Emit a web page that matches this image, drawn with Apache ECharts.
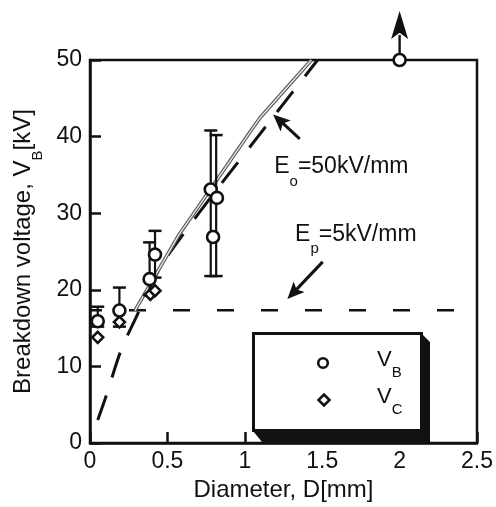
<!DOCTYPE html>
<html><head><meta charset="utf-8">
<script src="https://cdn.jsdelivr.net/npm/echarts@6/dist/echarts.min.js"></script>
<style>html,body{margin:0;padding:0;background:#fff}#c{width:496px;height:507px}</style>
</head><body><div id="c"></div>
<script>
// ---- data ----
const xTicks = [0, 0.5, 1, 1.5, 2, 2.5];
const yTicks = [0, 10, 20, 30, 40, 50];
// V_B (circles)
const vbD = [0.05, 0.19, 0.385, 0.42, 0.78, 0.82, 0.795, 2.0];
const vbV = [15.9, 17.3, 21.4, 24.6, 33.1, 32.0, 26.9, 50];
// V_C (diamonds)
const vcD = [0.05, 0.19, 0.39, 0.42];
const vcV = [13.8, 15.8, 19.4, 19.9];
// error bars
const errD = [0.05, 0.19, 0.385, 0.42, 0.78, 0.815];
const errLow = [15.2, 15.2, 19.3, 21.6, 21.8, 21.8];
const errHigh = [17.8, 20.3, 26.2, 27.7, 40.8, 40.2];
// E_o = 50 kV/mm dashed curve
const eoD = [0.05, 0.11, 0.2, 0.3, 0.45, 0.6, 0.8, 1.0, 1.2, 1.47];
const eoV = [3.0, 6.5, 12.1, 16.5, 22.8, 27.2, 32.6, 37.8, 43.0, 50];
// grey fitted line
const fitD = [0.29, 0.575, 1.03, 1.1, 1.43];
const fitV = [17.3, 27.2, 40.5, 42.5, 50];
// E_p = 5 kV/mm horizontal dashed line
const epD = [0, 2.5];
const epV = [17.35, 17.35];
// off-scale point arrow (x, from, to)
const offD = [2.0, 2.0];
const offV = [50, 56.4];

const FONT = "'Liberation Sans', Arial, Helvetica, sans-serif";
const INK = '#111';
const zip = (a, b) => a.map((v, i) => [v, b[i]]);

const chart = echarts.init(document.getElementById('c'), null, {renderer: 'canvas'});

const option = {
  animation: false,
  backgroundColor: '#fff',
  grid: {left: 90, right: 15, top: 60, bottom: 58, show: true, borderColor: INK, borderWidth: 2.5, backgroundColor: 'transparent'},
  xAxis: {
    type: 'value', min: xTicks[0], max: xTicks[xTicks.length - 1], interval: 0.5,
    name: 'Diameter, D[mm]', nameLocation: 'middle', nameGap: 33,
    nameTextStyle: {fontFamily: FONT, fontSize: 24, color: INK},
    axisLine: {show: true, lineStyle: {color: INK, width: 2.5}},
    axisTick: {show: true, inside: true, length: 11, lineStyle: {color: INK, width: 2.5}},
    axisLabel: {fontFamily: FONT, fontSize: 23, color: INK, margin: 7, formatter: v => String(v)},
    splitLine: {show: false}
  },
  yAxis: {
    type: 'value', min: yTicks[0], max: yTicks[yTicks.length - 1], interval: 10,
    name: '{a|Breakdown voltage, V}{s|B}{a|[kV]}', nameLocation: 'middle', nameGap: 43, nameRotate: 90,
    nameTextStyle: {
      fontFamily: FONT, color: INK,
      rich: {
        a: {fontFamily: FONT, fontSize: 24, color: INK, lineHeight: 44},
        s: {fontFamily: FONT, fontSize: 15, color: INK, lineHeight: 14, verticalAlign: 'bottom'}
      }
    },
    axisLine: {show: true, lineStyle: {color: INK, width: 2.5}},
    axisTick: {show: true, inside: true, length: 11, lineStyle: {color: INK, width: 2.5}},
    axisLabel: {fontFamily: FONT, fontSize: 23, color: INK, margin: 8},
    splitLine: {show: false}
  },
  series: [
    {
      type: 'line', data: zip(epD, epV), symbol: 'none', z: 2,
      lineStyle: {color: INK, width: 2.5, type: [17, 27], dashOffset: 5}
    },
    {
      type: 'line', data: zip(eoD, eoV), symbol: 'none', smooth: 0.3, z: 2,
      lineStyle: {color: INK, width: 3, type: [26, 19]}
    },
    {
      type: 'line', data: zip(fitD, fitV), symbol: 'none', z: 3,
      lineStyle: {color: '#555', width: 3.6}
    },
    {
      type: 'line', data: zip(fitD, fitV), symbol: 'none', z: 3,
      lineStyle: {color: '#e6e6e6', width: 1.4}
    },
    {
      type: 'custom', z: 4,
      data: errD.map((d, i) => [d, errLow[i], errHigh[i]]),
      renderItem: function (params, api) {
        const x = api.value(0), lo = api.value(1), hi = api.value(2);
        const p1 = api.coord([x, lo]), p2 = api.coord([x, hi]);
        const w = 6.5;
        const st = {stroke: INK, lineWidth: 2.2};
        return {type: 'group', children: [
          {type: 'line', shape: {x1: p1[0], y1: p1[1], x2: p2[0], y2: p2[1]}, style: st},
          {type: 'line', shape: {x1: p1[0] - w, y1: p1[1], x2: p1[0] + w, y2: p1[1]}, style: {stroke: INK, lineWidth: 2.5}},
          {type: 'line', shape: {x1: p2[0] - w, y1: p2[1], x2: p2[0] + w, y2: p2[1]}, style: {stroke: INK, lineWidth: 2.5}}
        ]};
      }
    },
    {
      type: 'scatter', name: 'V_C', data: zip(vcD, vcV), symbol: 'diamond', symbolSize: 11, z: 6, clip: false,
      itemStyle: {color: '#fff', borderColor: INK, borderWidth: 2.5, opacity: 1}
    },
    {
      type: 'scatter', name: 'V_B', data: zip(vbD, vbV), symbol: 'circle', symbolSize: 12, z: 7, clip: false,
      itemStyle: {color: '#fff', borderColor: INK, borderWidth: 2.6, opacity: 1}
    }
  ]
};
chart.setOption(option);

// ---- annotations anchored to data coordinates ----
const px = (x, y) => chart.convertToPixel({gridIndex: 0}, [x, y]);
function arrowEls(tail, tip, headLen, headW, lw) {
  const dx = tip[0] - tail[0], dy = tip[1] - tail[1];
  const L = Math.hypot(dx, dy), ux = dx / L, uy = dy / L;
  const bx = tip[0] - ux * headLen, by = tip[1] - uy * headLen;
  const nx = -uy, ny = ux;
  return [
    {type: 'line', shape: {x1: tail[0], y1: tail[1], x2: bx + ux * 4, y2: by + uy * 4}, style: {stroke: INK, lineWidth: lw || 3}, z: 6},
    {type: 'polygon', shape: {points: [tip, [bx + nx * headW / 2, by + ny * headW / 2], [tip[0] - ux * headLen * 0.78, tip[1] - uy * headLen * 0.78], [bx - nx * headW / 2, by - ny * headW / 2]]}, style: {fill: INK}, z: 6}
  ];
}
const rich = {
  a: {fontFamily: FONT, fontSize: 23, fill: INK, lineHeight: 44},
  s: {fontFamily: FONT, fontSize: 15, fill: INK, lineHeight: 14, verticalAlign: 'bottom'}
};
const richL = {
  a: {fontFamily: FONT, fontSize: 22, fill: INK, lineHeight: 40},
  s: {fontFamily: FONT, fontSize: 15, fill: INK, lineHeight: 14, verticalAlign: 'bottom'}
};
const eoText = px(1.19, 35.0);
const epText = px(1.325, 26.2);
const graphics = [].concat(
  arrowEls(px(1.355, 39.7), px(1.183, 42.9), 17, 15),
  arrowEls(px(1.503, 23.65), px(1.275, 18.8), 17, 15),
  arrowEls(px(offD[0], offV[0]), px(offD[1], offV[1]), 28, 17, 2.4),
  [
    {type: 'text', x: eoText[0], y: eoText[1] - 30, z: 20, style: {text: '{a|E}{s|o}{a|=50kV/mm}', rich: rich, verticalAlign: 'top'}},
    {type: 'text', x: epText[0], y: epText[1] - 30, z: 20, style: {text: '{a|E}{s|p}{a|=5kV/mm}', rich: rich, verticalAlign: 'top'}},
    // legend box with shadow
    {type: 'polygon', z: 20, shape: {points: [[421, 333], [430, 342], [430, 442], [262, 442], [253, 431], [421, 431]]}, style: {fill: INK}},
    {type: 'rect', z: 21, shape: {x: 253.5, y: 333.5, width: 168, height: 97}, style: {fill: '#fff', stroke: INK, lineWidth: 3}},
    {type: 'circle', z: 22, shape: {cx: 323, cy: 363, r: 4.8}, style: {fill: '#fff', stroke: INK, lineWidth: 2.6}},
    {type: 'polygon', z: 22, shape: {points: [[324, 394.5], [329.5, 400], [324, 405.5], [318.5, 400]]}, style: {fill: '#fff', stroke: INK, lineWidth: 2.5}},
    {type: 'text', z: 22, x: 377, y: 340, style: {text: '{a|V}{s|B}', rich: richL, verticalAlign: 'top'}},
    {type: 'text', z: 22, x: 377, y: 377, style: {text: '{a|V}{s|C}', rich: richL, verticalAlign: 'top'}}
  ]
);
chart.setOption({graphic: graphics});
</script>
</body></html>
